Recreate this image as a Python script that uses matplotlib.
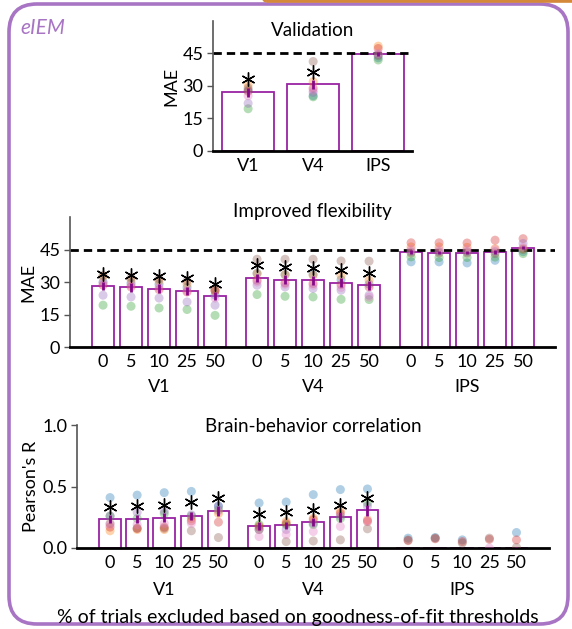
import matplotlib
matplotlib.use("Agg")
import matplotlib.pyplot as plt
from matplotlib.patches import FancyBboxPatch
from matplotlib.transforms import blended_transform_factory
import numpy as np

plt.rcParams['font.family'] = ['Lato', 'DejaVu Sans']

# ---------------- data ----------------
subject_colors = ['tab:blue', 'tab:orange', 'tab:green', 'tab:red',
                  'tab:purple', 'tab:brown', 'tab:pink']
levels = ['0', '5', '10', '25', '50']
rois = ['V1', 'V4', 'IPS']

# Validation
val_means = [27.0, 30.7, 44.8]
val_sem = [2.0, 2.2, 0.8]
val_star = [33.0, 36.6, None]
val_subjects = [  # per ROI: blue, orange, green, red, purple, brown, pink
    [28.0, 30.5, 19.5, 27.5, 22.0, 29.0, 25.5],
    [25.5, 32.0, 25.0, 29.0, 27.0, 41.3, 28.0],
    [43.0, 48.4, 42.0, 47.3, 44.5, 44.0, 45.0],
]

# Improved flexibility (MAE)
flex_means = [28.2, 27.6, 27.0, 25.9, 23.6,
              31.9, 31.1, 30.8, 29.7, 28.5,
              43.9, 43.6, 43.6, 43.9, 45.8]
flex_sem = [2.0, 2.0, 2.0, 2.0, 2.0,
            2.0, 2.0, 2.0, 2.0, 2.0,
            0.9, 0.9, 0.9, 0.9, 0.7]
flex_star = [33.9, 33.4, 32.8, 31.9, 29.3,
             38.0, 37.0, 36.5, 35.7, 34.2,
             None, None, None, None, None]
flex_subjects = [
    [30.0, 32.5, 19.3, 28.5, 23.9, 33.0, 29.5],
    [29.5, 31.0, 18.8, 27.7, 23.1, 32.0, 28.5],
    [29.0, 30.5, 18.0, 26.5, 22.6, 31.5, 27.5],
    [27.5, 29.0, 17.3, 25.4, 20.8, 30.5, 26.0],
    [24.0, 25.9, 14.6, 25.9, 19.3, 26.5, 22.6],
    [34.0, 33.9, 24.2, 30.8, 28.5, 40.5, 30.0],
    [33.4, 33.4, 23.4, 29.6, 27.7, 40.5, 29.0],
    [33.5, 33.1, 23.1, 29.3, 27.0, 40.5, 28.5],
    [31.0, 32.8, 22.0, 28.8, 26.2, 39.7, 27.5],
    [29.0, 30.8, 21.9, 27.7, 23.9, 39.6, 23.0],
    [39.3, 46.2, 41.6, 48.1, 44.0, 43.4, 45.0],
    [39.3, 46.2, 41.3, 48.1, 44.0, 43.4, 45.0],
    [38.8, 46.0, 41.3, 48.0, 44.0, 43.4, 45.0],
    [40.0, 45.4, 41.5, 49.3, 44.0, 43.1, 45.0],
    [44.0, 45.4, 43.1, 50.0, 47.8, 45.0, 46.0],
]

# Brain-behavior correlation (Pearson's R)
corr_means = [0.235, 0.235, 0.246, 0.26, 0.30,
              0.18, 0.183, 0.21, 0.25, 0.306,
              -0.04, -0.03, -0.04, -0.03, -0.02]
corr_sem = [0.035, 0.035, 0.035, 0.035, 0.04,
            0.03, 0.03, 0.035, 0.04, 0.045,
            0.03, 0.03, 0.03, 0.03, 0.025]
corr_star = [0.33, 0.34, 0.35, 0.37, 0.41,
             0.28, 0.29, 0.31, 0.35, 0.41,
             None, None, None, None, None]
corr_subjects = [
    [0.41, 0.14, 0.26, 0.17, 0.26, 0.20, 0.19],
    [0.43, 0.15, 0.24, 0.16, 0.29, 0.16, 0.19],
    [0.45, 0.15, 0.28, 0.17, 0.30, 0.16, 0.20],
    [0.46, 0.24, 0.26, 0.22, 0.27, 0.14, 0.20],
    [0.34, 0.28, 0.31, 0.21, 0.34, 0.085, 0.30],
    [0.366, 0.18, 0.19, 0.17, 0.15, 0.15, 0.093],
    [0.374, 0.216, 0.19, 0.20, 0.15, 0.052, 0.11],
    [0.434, 0.243, 0.19, 0.23, 0.20, 0.057, 0.134],
    [0.475, 0.30, 0.24, 0.28, 0.26, 0.066, 0.175],
    [0.48, 0.23, 0.366, 0.216, 0.34, 0.156, 0.22],
    [0.08, -0.05, -0.10, 0.06, -0.05, 0.065, -0.08],
    [0.085, -0.05, -0.10, 0.075, -0.08, 0.08, -0.05],
    [0.066, -0.06, -0.10, 0.052, -0.08, 0.04, -0.05],
    [-0.05, -0.08, -0.10, 0.07, -0.05, 0.08, 0.0],
    [0.126, -0.05, -0.10, 0.066, -0.05, 0.005, -0.05],
]

# ---------------- styling ----------------
W, H = 572, 629
BAR_EDGE = '#9a22a4'
ERR_COL = '#86088a'
FS = 13
FT = 13.5

fig = plt.figure(figsize=(W / 100, H / 100), dpi=100)


def add_axes_px(left, top, right, bottom):
    return fig.add_axes([left / W, 1 - bottom / H, (right - left) / W, (bottom - top) / H])


def style_axes(ax):
    for s in ['top', 'right']:
        ax.spines[s].set_visible(False)
    ax.spines['left'].set_color('#555555')
    ax.spines['left'].set_linewidth(1.2)
    ax.spines['bottom'].set_color('black')
    ax.spines['bottom'].set_linewidth(2.0)
    ax.tick_params(axis='y', length=4, width=1, color='#555555', labelsize=FS, pad=3)
    ax.tick_params(axis='x', length=0, labelsize=FS, pad=5)
    ax.patch.set_alpha(0)


def draw_panel(ax, x, means, sem, stars, subjects, width=0.8):
    ax.bar(x, means, width=width, facecolor='white', edgecolor=BAR_EDGE,
           linewidth=1.3, zorder=2)
    for i, xi in enumerate(x):
        ax.scatter([xi] * len(subjects[i]), subjects[i], s=42, c=subject_colors,
                   alpha=0.35, edgecolors='none', zorder=3)
    ax.errorbar(x, means, yerr=sem, fmt='none', ecolor=ERR_COL, elinewidth=2,
                capsize=0, zorder=4)
    sx = [xi for xi, s in zip(x, stars) if s is not None]
    sy = [s for s in stars if s is not None]
    ax.plot(sx, sy, linestyle='none', marker=(6, 2, 0), markersize=10,
            markeredgewidth=1.0, color='black', zorder=5)


def panel_title(ax, text, frac):
    ax.text(0.5, frac, text, transform=ax.transAxes, ha='center', va='center',
            fontsize=FT)


# ---------- Validation ----------
ax1 = add_axes_px(213, 21, 412, 151)
style_axes(ax1)
x1 = np.arange(len(rois))
draw_panel(ax1, x1, val_means, val_sem, val_star, val_subjects)
ax1.axhline(45, color='black', linestyle=(0, (3, 1.8)), linewidth=2, zorder=2.5)
ax1.set_xlim(-0.54, 2.52)
ax1.set_ylim(0, 60)
ax1.set_yticks([0, 15, 30, 45])
ax1.set_xticks(x1)
ax1.set_xticklabels(rois)
ax1.set_ylabel('MAE', fontsize=FS, labelpad=2)
panel_title(ax1, 'Validation', (151 - 31) / 130)

# positions for grouped panels
xg = np.concatenate([np.arange(5), np.arange(5) + 5.5, np.arange(5) + 11.0])
tick_labels = levels * 3
group_centers = [2.0, 7.5, 13.0]

# ---------- Improved flexibility ----------
ax2 = add_axes_px(70, 217, 555, 347)
style_axes(ax2)
draw_panel(ax2, xg, flex_means, flex_sem, flex_star, flex_subjects)
ax2.axhline(45, color='black', linestyle=(0, (3, 1.8)), linewidth=2, zorder=2.5)
ax2.set_xlim(-1.18, 16.14)
ax2.set_ylim(0, 60)
ax2.set_yticks([0, 15, 30, 45])
ax2.set_xticks(xg)
ax2.set_xticklabels(tick_labels)
ax2.set_ylabel('MAE', fontsize=FS, labelpad=2)
panel_title(ax2, 'Improved flexibility', (347 - 211) / 130)
tr2 = blended_transform_factory(ax2.transData, ax2.transAxes)
for c, r in zip(group_centers, rois):
    ax2.text(c, -40 / 130, r, transform=tr2, ha='center', va='center', fontsize=FS)

# ---------- Brain-behavior correlation ----------
ax3 = add_axes_px(77, 425, 549, 548)
style_axes(ax3)
draw_panel(ax3, xg, corr_means, corr_sem, corr_star, corr_subjects)
ax3.set_xlim(-1.22, 16.2)
ax3.set_ylim(0, 1.0)
ax3.set_yticks([0.0, 0.5, 1.0])
ax3.set_yticklabels(['0.0', '0.5', '1.0'])
ax3.set_xticks(xg)
ax3.set_xticklabels(tick_labels)
ax3.set_ylabel("Pearson's R", fontsize=FS, labelpad=2)
panel_title(ax3, 'Brain-behavior correlation', (548 - 426) / 123)
tr3 = blended_transform_factory(ax3.transData, ax3.transAxes)
for c, r in zip(group_centers, rois):
    ax3.text(c, -42 / 123, r, transform=tr3, ha='center', va='center', fontsize=FS)

fig.text(298 / W, 1 - 617 / H, '% of trials excluded based on goodness-of-fit thresholds',
         ha='center', va='center', fontsize=14)

# label
fig.text(20 / W, 1 - 28 / H, 'eIEM', ha='left', va='center', fontsize=15,
         style='italic', color='#a874c4')

# frames
purple = FancyBboxPatch((9 / 100, 5 / 100), (568 - 9) / 100, (624 - 4) / 100,
                        boxstyle='round,pad=0,rounding_size=0.28',
                        transform=fig.dpi_scale_trans, facecolor='none',
                        edgecolor='#a874c4', linewidth=2.6, zorder=0)
fig.add_artist(purple)
orange = FancyBboxPatch((255 / 100, (629 - 1) / 100), 4.0, 1.0,
                        boxstyle='round,pad=0,rounding_size=0.12',
                        transform=fig.dpi_scale_trans, facecolor='none',
                        edgecolor='#d4883a', linewidth=2.6, zorder=0)
fig.add_artist(orange)

fig.savefig('out.png', dpi=100)
